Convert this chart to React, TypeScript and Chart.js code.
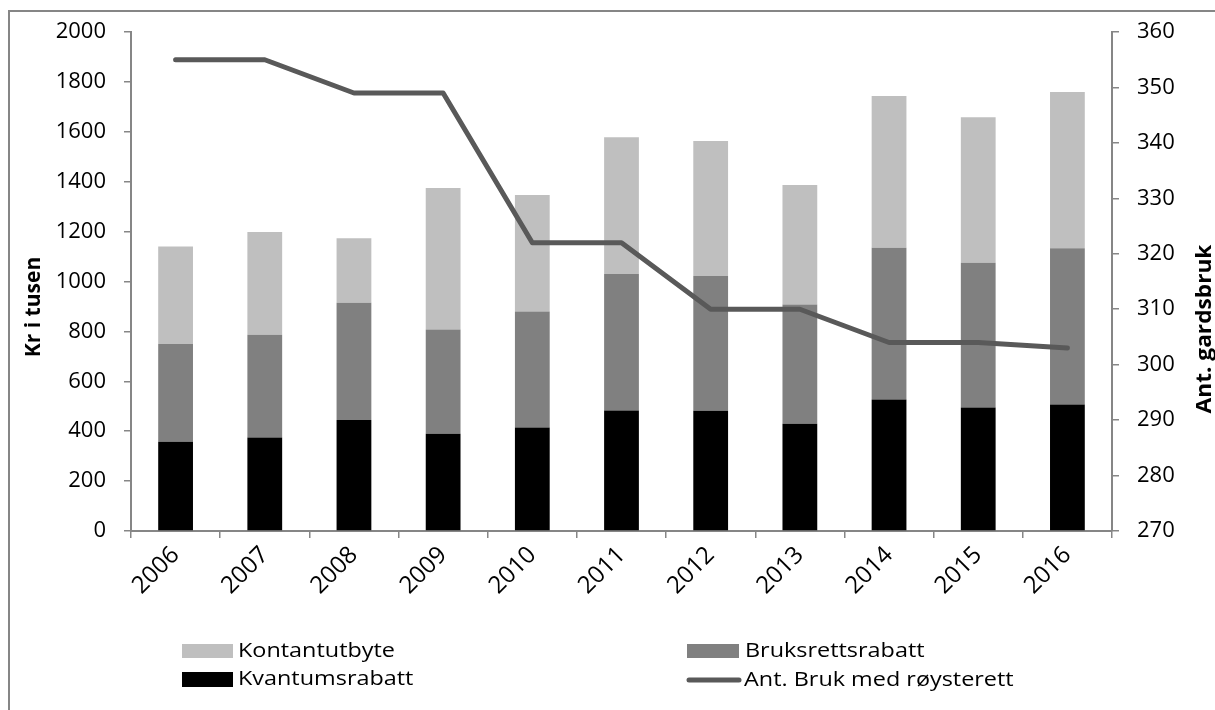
import React, { useEffect, useRef } from "react";
import { Chart, registerables } from "chart.js";

Chart.register(...registerables);

const categories = ["2006", "2007", "2008", "2009", "2010", "2011", "2012", "2013", "2014", "2015", "2016"];
const kvantumsrabatt = [358, 375, 445, 390, 415, 483, 482, 430, 527, 495, 507];
const bruksrettsrabatt = [392, 412, 470, 418, 465, 547, 540, 478, 608, 580, 626];
const kontantutbyte = [390, 411, 258, 567, 467, 548, 541, 479, 608, 583, 627];
const antBruk = [355, 355, 349, 349, 322, 322, 310, 310, 304, 304, 303];

const leftTicksMin = 0;
const leftTicksMax = 2000;
const leftStep = 200;
const rightTicksMin = 270;
const rightTicksMax = 360;
const rightStep = 10;

const FONT = "'Open Sans', 'Noto Sans', sans-serif";
const AXIS_COLOR = "#868686";
const C_BLACK = "#000000";
const C_MID = "#808080";
const C_LIGHT = "#bfbfbf";
const C_LINE = "#595959";

function stretchedText(ctx: CanvasRenderingContext2D, text: string, x: number, y: number, sx: number) {
  ctx.save();
  ctx.translate(x, y);
  ctx.scale(sx, 1);
  ctx.fillText(text, 0, 0);
  ctx.restore();
}

const overlayPlugin = {
  id: "overlay",
  afterDraw(chart: any) {
    const ctx = chart.ctx as CanvasRenderingContext2D;
    ctx.save();
    // Axis titles
    ctx.fillStyle = "#000";
    ctx.font = `bold 21px ${FONT}`;
    ctx.textAlign = "center";
    ctx.textBaseline = "middle";
    ctx.save();
    ctx.translate(34, 307);
    ctx.rotate(-Math.PI / 2);
    ctx.fillText("Kr i tusen", 0, 0);
    ctx.restore();
    ctx.save();
    ctx.translate(1205, 329);
    ctx.rotate(-Math.PI / 2);
    ctx.scale(1.08, 1);
    ctx.fillText("Ant. gardsbruk", 0, 0);
    ctx.restore();

    // Legend
    ctx.font = `20px ${FONT}`;
    ctx.textAlign = "left";
    ctx.textBaseline = "middle";
    ctx.fillStyle = C_LIGHT;
    ctx.fillRect(182, 644, 51, 14);
    ctx.fillStyle = C_BLACK;
    ctx.fillRect(182, 672, 51, 15);
    ctx.fillStyle = C_MID;
    ctx.fillRect(687, 644, 52, 14);
    ctx.strokeStyle = C_LINE;
    ctx.lineWidth = 5;
    ctx.lineCap = "round";
    ctx.beginPath();
    ctx.moveTo(689, 680);
    ctx.lineTo(739, 680);
    ctx.stroke();
    ctx.fillStyle = "#000";
    const sx = 1.17;
    stretchedText(ctx, "Kontantutbyte", 238, 651, sx);
    stretchedText(ctx, "Kvantumsrabatt", 238, 679, sx);
    stretchedText(ctx, "Bruksrettsrabatt", 745, 651, sx);
    stretchedText(ctx, "Ant. Bruk med røysterett", 744, 680, sx);
    ctx.restore();
  },
};

export default function App() {
  const ref = useRef<HTMLCanvasElement | null>(null);

  useEffect(() => {
    if (!ref.current) return;
    const tickFont = { family: FONT, size: 22 };
    const xTickFont = { family: FONT, size: 24 };
    const plain = (v: any) => String(v);
    const chart = new Chart(ref.current, {
      type: "bar",
      data: {
        labels: categories,
        datasets: [
          {
            type: "line",
            label: "Ant. Bruk med røysterett",
            data: antBruk,
            yAxisID: "y1",
            borderColor: C_LINE,
            backgroundColor: C_LINE,
            borderWidth: 5,
            pointRadius: 0,
            borderCapStyle: "round",
            borderJoinStyle: "round",
            tension: 0,
            order: 0,
          } as any,
          {
            label: "Kvantumsrabatt",
            data: kvantumsrabatt,
            backgroundColor: C_BLACK,
            yAxisID: "y",
            stack: "s",
            order: 1,
          },
          {
            label: "Bruksrettsrabatt",
            data: bruksrettsrabatt,
            backgroundColor: C_MID,
            yAxisID: "y",
            stack: "s",
            order: 1,
          },
          {
            label: "Kontantutbyte",
            data: kontantutbyte,
            backgroundColor: C_LIGHT,
            yAxisID: "y",
            stack: "s",
            order: 1,
          },
        ],
      },
      options: {
        responsive: false,
        animation: false,
        devicePixelRatio: 1,
        layout: { padding: { top: 32, left: 0, right: 0, bottom: 0 } },
        datasets: { bar: { categoryPercentage: 1, barPercentage: 0.39 } },
        plugins: { legend: { display: false }, tooltip: { enabled: false }, title: { display: false } },
        scales: {
          x: {
            stacked: true,
            grid: {
              offset: true,
              drawOnChartArea: false,
              drawTicks: true,
              tickLength: 7,
              color: AXIS_COLOR,
              lineWidth: 1.5,
            },
            border: { display: true, color: AXIS_COLOR, width: 2 },
            ticks: { minRotation: 45, maxRotation: 45, font: xTickFont, color: "#000", padding: 3, autoSkip: false },
            afterFit: (s: any) => {
              s.height = 179;
            },
          },
          y: {
            position: "left",
            stacked: true,
            min: leftTicksMin,
            max: leftTicksMax,
            grid: { drawOnChartArea: false, drawTicks: true, tickLength: 7, color: AXIS_COLOR, lineWidth: 1.5 },
            border: { display: true, color: AXIS_COLOR, width: 2 },
            ticks: { stepSize: leftStep, font: tickFont, color: "#000", padding: 18, callback: plain },
            afterFit: (s: any) => {
              s.width = 131;
            },
          },
          y1: {
            position: "right",
            min: rightTicksMin,
            max: rightTicksMax,
            grid: { drawOnChartArea: false, drawTicks: true, tickLength: 7, color: AXIS_COLOR, lineWidth: 1.5 },
            border: { display: true, color: AXIS_COLOR, width: 2 },
            ticks: { stepSize: rightStep, font: tickFont, color: "#000", padding: 18, callback: plain },
            afterFit: (s: any) => {
              s.width = 103;
            },
          },
        },
      },
      plugins: [overlayPlugin],
    });
    return () => chart.destroy();
  }, []);

  return (
    <>
      <div
        style={{
          position: "fixed",
          left: 8,
          top: 10,
          width: 1400,
          height: 900,
          borderLeft: `2px solid ${AXIS_COLOR}`,
          borderTop: `2px solid ${AXIS_COLOR}`,
          pointerEvents: "none",
        }}
      />
      <canvas
        ref={ref}
        width={1215}
        height={710}
        style={{ position: "fixed", left: 0, top: 0, width: 1215, height: 710, display: "block" }}
      />
    </>
  );
}
